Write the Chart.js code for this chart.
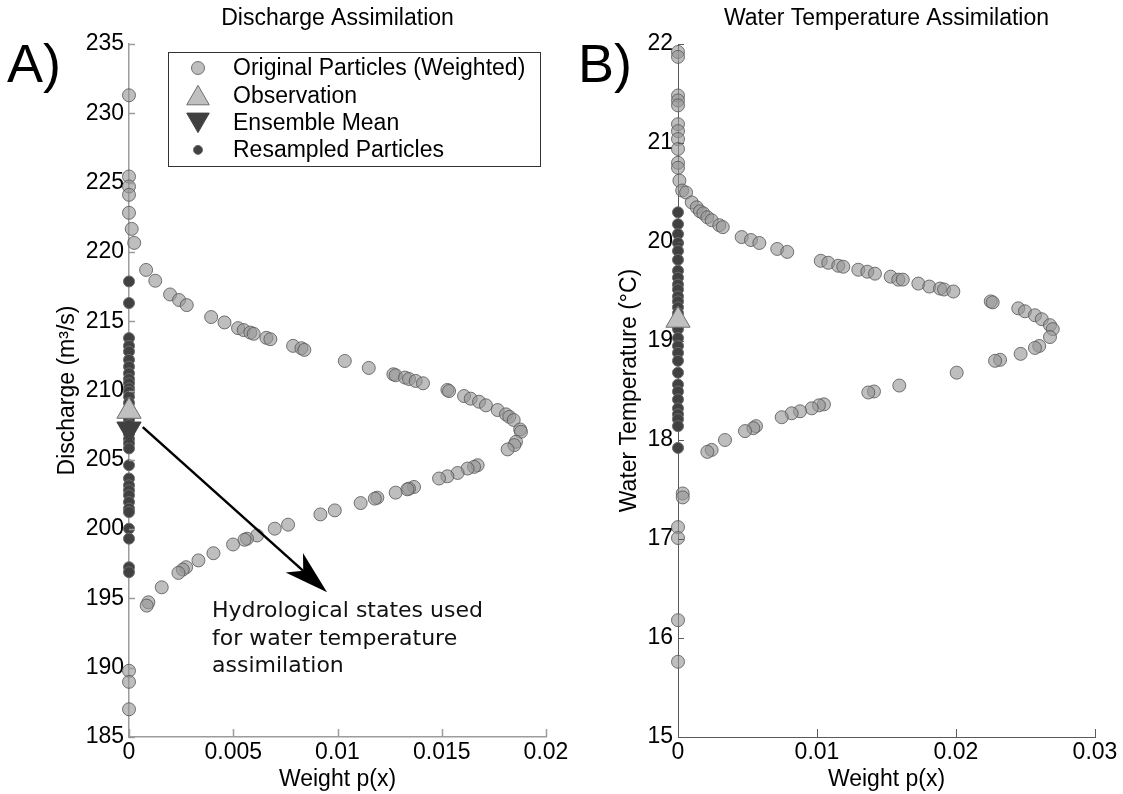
<!DOCTYPE html>
<html><head><meta charset="utf-8">
<script src="https://cdn.jsdelivr.net/npm/chart.js@4/dist/chart.umd.min.js"></script>
<style>
html,body{margin:0;padding:0;background:#fff;}
#wrap{position:relative;width:1123px;height:794px;overflow:hidden;background:#fff;}
#c1{position:absolute;left:0;top:0;}
#c2{position:absolute;left:560px;top:0;}
</style></head><body>
<div id="wrap">
<canvas id="c1" width="600" height="794"></canvas>
<canvas id="c2" width="563" height="794"></canvas>
</div>
<script>
// ---------------- DATA ----------------
// Panel A: discharge assimilation (weight, discharge m3/s)
const dischargeWeight = [0,0,0,0,0,0.00013,0.00025,0,0,0,
  0.00082,0.00126,0.00197,0.00240,0.00277,0.00394,0.00458,0.00523,0.00550,0.00582,0.00598,0.00659,0.00678,
  0.00787,0.00827,0.00841,0.01035,0.01150,0.01268,0.01279,0.01324,0.01343,0.01375,0.01410,0.01527,0.01535,
  0.01607,0.01639,0.01679,0.01712,0.01768,0.01808,0.01824,0.01845,0.01876,
  0.01880,0.01856,0.01848,0.01816,0.01672,0.01655,0.01624,0.01576,0.01527,0.01487,0.01367,0.01343,0.01335,
  0.01279,0.01191,0.01179,0.01111,0.00987,0.00918,0.00763,0.00699,0.00614,0.00566,0.00554,0.00499,0.00405,
  0.00333,0.00274,0.00258,0.00237,0.00157,0.00093,0.00085];
const dischargeValue = [231.3,225.44,224.72,224.12,222.82,221.66,220.65,189.78,188.98,187.0,
  218.70,217.92,216.93,216.53,216.16,215.30,214.91,214.50,214.36,214.18,214.09,213.80,213.70,
  213.22,213.05,212.93,212.13,211.63,211.17,211.10,210.93,210.83,210.69,210.52,210.04,209.96,
  209.60,209.41,209.19,208.93,208.59,208.28,208.10,207.87,207.19,
  207.02,206.30,206.06,205.75,204.61,204.49,204.37,204.05,203.81,203.65,203.04,202.92,202.87,
  202.63,202.27,202.20,201.88,201.35,201.06,200.32,200.03,199.54,199.31,199.23,198.89,198.26,
  197.74,197.25,197.08,196.84,195.80,194.72,194.48];
const resampledDischarge = [217.87,216.31,213.78,213.22,212.81,212.21,211.72,211.24,210.83,210.52,210.16,
  209.91,209.55,209.10,208.70,208.30,207.90,207.50,206.90,206.50,206.18,205.82,204.61,203.65,203.16,
  202.80,202.44,201.95,201.48,201.23,200.03,199.31,197.25,196.89];
const observedDischarge = [208.5];
const meanDischarge = [207.22];

// Panel B: water temperature assimilation (weight, deg C)
const tempWeight = [0,0,0,0,0,0,0,0,0,0,0,0.0001,0.0003,0.00034,0.00034,0,0,0,0,
  0.00058,0.00099,0.00135,0.00158,0.00182,0.00211,0.00242,0.00297,0.00322,0.00458,0.00525,0.00585,
  0.00714,0.00786,0.01027,0.01081,0.01153,0.01189,0.01297,0.01362,0.01417,0.01530,0.01585,0.01617,
  0.01729,0.01808,0.01885,0.01914,0.01981,0.02250,0.02264,0.02448,0.02496,0.02568,0.02617,0.02676,
  0.02696,0.02676,
  0.02599,0.02568,0.02465,0.02317,0.02281,0.02005,0.01592,0.01410,0.01369,0.01050,0.01014,0.00962,
  0.00878,0.00818,0.00746,0.00561,0.00542,0.00482,0.00338,0.00242,0.00211];
const tempValue = [21.92,21.87,21.48,21.43,21.38,21.19,21.12,21.04,20.94,20.80,20.75,20.62,20.52,17.46,17.42,17.12,17.01,16.18,15.76,
  20.50,20.40,20.35,20.31,20.29,20.25,20.22,20.17,20.15,20.05,20.02,19.99,
  19.93,19.90,19.81,19.79,19.76,19.75,19.72,19.70,19.68,19.65,19.62,19.62,
  19.58,19.55,19.53,19.52,19.50,19.40,19.39,19.33,19.30,19.26,19.22,19.16,
  19.12,19.04,
  18.95,18.93,18.87,18.81,18.80,18.68,18.55,18.49,18.48,18.36,18.35,18.32,
  18.29,18.27,18.23,18.14,18.12,18.09,18.00,17.90,17.88];
const resampledTemp = [20.30,20.18,20.08,19.99,19.91,19.82,19.71,19.64,19.57,19.52,19.45,19.40,19.34,19.28,
  19.22,19.12,19.03,18.95,18.88,18.80,18.68,18.56,18.49,18.41,18.32,18.26,18.21,18.14,17.92];
const observedTemp = [19.21];

// Tick values / labels
const dischargeTicks = [185,190,195,200,205,210,215,220,225,230,235];
const weightTicksA = [0,0.005,0.01,0.015,0.02];
const weightLabelsA = ['0','0.005','0.01','0.015','0.02'];
const tempTicks = [15,16,17,18,19,20,21,22];
const weightTicksB = [0,0.01,0.02,0.03];
const weightLabelsB = ['0','0.01','0.02','0.03'];
const legendLabels = ['Original Particles (Weighted)','Observation','Ensemble Mean','Resampled Particles'];
const noteLines = ['Hydrological states used','for water temperature','assimilation'];

// ---------------- STYLE ----------------
const FONT = "'Liberation Sans', Arial, sans-serif";
const sOrig = {pointStyle:'circle', pointRadius:6.5, pointBackgroundColor:'rgba(150,150,150,0.62)', pointBorderColor:'rgba(85,85,85,0.8)', pointBorderWidth:1};
const sObs  = {pointStyle:'triangle', pointRadius:14, pointRotation:0, pointBackgroundColor:'#c0c0c0', pointBorderColor:'#6e6e6e', pointBorderWidth:1};
const sMean = {pointStyle:'triangle', pointRadius:14, pointRotation:180, pointBackgroundColor:'#404040', pointBorderColor:'#404040', pointBorderWidth:1};
const sRes  = {pointStyle:'circle', pointRadius:5.5, pointBackgroundColor:'#414141', pointBorderColor:'#6a6a6a', pointBorderWidth:1};

const pairs = (xs, ys) => xs.map((x,i)=>({x:x, y:ys[i]}));
const atZero = ys => ys.map(y=>({x:0, y:y}));

function ds(label, data, st, order){
  return Object.assign({label:label, data:data, showLine:false, clip:false, order:order, pointHoverRadius:st.pointRadius}, st);
}

function scales(o){
  return {
    x:{type:'linear', min:o.xmin, max:o.xmax,
      afterBuildTicks:s=>{s.ticks=o.xticks.map(v=>({value:v}));},
      afterFit:s=>{s.height=57;},
      grid:{display:false, drawTicks:false},
      border:{display:true, color:o.axis, width:o.aw},
      ticks:{color:'#000', font:{family:FONT,size:23}, padding:2, maxRotation:0, autoSkip:false, callback:(v,i)=>o.xlabels[i]},
      title:{display:true, text:'Weight p(x)', color:'#000', font:{family:FONT,size:23}, padding:{top:0,bottom:1}}},
    y:{type:'linear', min:o.ymin, max:o.ymax,
      afterBuildTicks:s=>{s.ticks=o.yticks.map(v=>({value:v}));},
      afterFit:s=>{s.width=o.yw;},
      grid:{display:false, drawTicks:false},
      border:{display:true, color:o.axis, width:o.aw},
      ticks:{color:'#000', font:{family:FONT,size:23}, padding:5, autoSkip:false, callback:v=>String(v)},
      title:{display:true, text:o.ytitle, color:'#000', font:{family:FONT,size:23}, padding:{top:o.ytp,bottom:0}}}
  };
}

function decorPlugin(o){
  return {id:'decor'+o.letter,
    afterDraw(chart){
      const ctx=chart.ctx, a=chart.chartArea, xs=chart.scales.x, ys=chart.scales.y;
      ctx.save();
      // inward ticks
      ctx.strokeStyle=o.axis; ctx.lineWidth=o.aw;
      ctx.beginPath();
      o.yticks.forEach(v=>{const y=Math.round(ys.getPixelForValue(v))+0.5; ctx.moveTo(a.left,y); ctx.lineTo(a.left+6,y);});
      o.xticks.forEach(v=>{const x=Math.round(xs.getPixelForValue(v))+0.5; ctx.moveTo(x,a.bottom); ctx.lineTo(x,a.bottom-8);});
      ctx.stroke();
      // title
      ctx.fillStyle='#000';
      ctx.font='23px '+FONT; ctx.textAlign='center'; ctx.textBaseline='middle';
      ctx.fillText(o.title,(a.left+a.right)/2,19);
      // panel letter
      ctx.font='54px '+FONT; ctx.textAlign='left'; ctx.textBaseline='alphabetic';
      ctx.fillText(o.letter+')',o.lx,82);
      ctx.restore();
    }};
}

const legendPlugin = {id:'legendBox',
  afterDraw(chart){
    const ctx=chart.ctx;
    const L=168, T=52, W=372, H=114;
    ctx.save();
    ctx.fillStyle='#fff'; ctx.fillRect(L,T,W,H);
    ctx.strokeStyle='#333'; ctx.lineWidth=1; ctx.strokeRect(L+0.5,T+0.5,W,H);
    const stylesL=[sOrig, sObs, sMean, Object.assign({}, sRes, {pointRadius:4.5})];
    stylesL.forEach((st,i)=>{
      const y=T+16+i*27.3;
      ctx.fillStyle=st.pointBackgroundColor; ctx.strokeStyle=st.pointBorderColor; ctx.lineWidth=st.pointBorderWidth;
      const yy = st.pointStyle==='triangle' ? (st.pointRotation ? y-3 : y+3) : y;
      Chart.helpers.drawPoint(ctx,{pointStyle:st.pointStyle, radius:st.pointStyle==='triangle'?13:st.pointRadius, rotation:st.pointRotation||0, borderWidth:st.pointBorderWidth},198,yy);
      ctx.fillStyle='#000'; ctx.font='23px '+FONT; ctx.textAlign='left'; ctx.textBaseline='middle';
      ctx.fillText(legendLabels[i],233,y+1);
    });
    ctx.restore();
  }};

const notePlugin = {id:'note',
  afterDatasetsDraw(chart){
    const ctx=chart.ctx, xs=chart.scales.x, ys=chart.scales.y;
    const x1=xs.getPixelForValue(0.00066), y1=ys.getPixelForValue(207.36);
    const x2=xs.getPixelForValue(0.0095), y2=ys.getPixelForValue(195.45);
    const dx=x2-x1, dy=y2-y1, len=Math.hypot(dx,dy), ux=dx/len, uy=dy/len, px=-uy, py=ux;
    const hl=44, hw=13, notch=32;
    ctx.save();
    ctx.strokeStyle='#000'; ctx.fillStyle='#000'; ctx.lineWidth=2.5;
    ctx.beginPath(); ctx.moveTo(x1,y1); ctx.lineTo(x2-ux*notch,y2-uy*notch); ctx.stroke();
    ctx.beginPath();
    ctx.moveTo(x2,y2);
    ctx.lineTo(x2-ux*hl+px*hw, y2-uy*hl+py*hw);
    ctx.lineTo(x2-ux*notch, y2-uy*notch);
    ctx.lineTo(x2-ux*hl-px*hw, y2-uy*hl-py*hw);
    ctx.closePath(); ctx.fill();
    ctx.font="22px 'DejaVu Sans', Verdana, sans-serif"; ctx.textAlign='left'; ctx.textBaseline='alphabetic';
    ctx.fillStyle='#111';
    noteLines.forEach((t,i)=>ctx.fillText(t,212,617+i*27.5));
    ctx.restore();
  }};

const common = {responsive:false, animation:false, events:[],
  plugins:{legend:{display:false}, tooltip:{enabled:false}}};

const optA = {xmin:0,xmax:0.02,xticks:weightTicksA,xlabels:weightLabelsA,ymin:185,ymax:235,yticks:dischargeTicks,
  ytitle:'Discharge (m³/s)', axis:'#9c9c9c', aw:1.5, yw:129, ytp:54, title:'Discharge Assimilation', letter:'A', lx:7};
const optB = {xmin:0,xmax:0.03,xticks:weightTicksB,xlabels:weightLabelsB,ymin:15,ymax:22,yticks:tempTicks,
  ytitle:'Water Temperature (°C)', axis:'#5a5a5a', aw:1, yw:118, ytp:56, title:'Water Temperature Assimilation', letter:'B', lx:18};

new Chart(document.getElementById('c1'), {
  type:'scatter',
  data:{datasets:[
    ds(legendLabels[1], atZero(observedDischarge), sObs, 0),
    ds(legendLabels[2], atZero(meanDischarge), sMean, 1),
    ds(legendLabels[3], atZero(resampledDischarge), sRes, 2),
    ds(legendLabels[0], pairs(dischargeWeight, dischargeValue), sOrig, 3)
  ]},
  options:Object.assign({}, common, {layout:{padding:{top:44,right:54,bottom:0,left:0}}, scales:scales(optA)}),
  plugins:[decorPlugin(optA), legendPlugin, notePlugin]
});

new Chart(document.getElementById('c2'), {
  type:'scatter',
  data:{datasets:[
    ds(legendLabels[1], atZero(observedTemp), sObs, 0),
    ds(legendLabels[3], atZero(resampledTemp), sRes, 2),
    ds(legendLabels[0], pairs(tempWeight, tempValue), sOrig, 3)
  ]},
  options:Object.assign({}, common, {layout:{padding:{top:44,right:28,bottom:0,left:0}}, scales:scales(optB)}),
  plugins:[decorPlugin(optB)]
});
</script>
</body></html>
